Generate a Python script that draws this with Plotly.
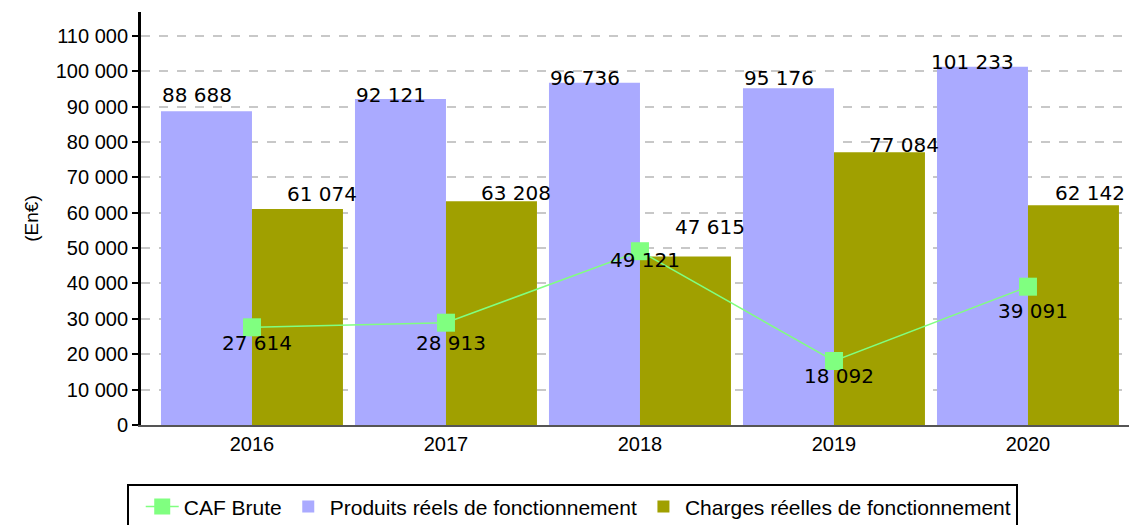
import plotly.graph_objects as go

years = ["2016", "2017", "2018", "2019", "2020"]
produits = [88688, 92121, 96736, 95176, 101233]
charges = [61074, 63208, 47615, 77084, 62142]
caf = [27614, 28913, 49121, 18092, 39091]

# label pixel offsets (styling)
prod_lbl_dy = [16, 4, 5, 10, 5]
charg_lbl_dy = [15, 8, 30, 7, 12]
charg_lbl_dx = [0, 0, 0, 0, -8]
caf_lbl_dy = [-16, -20, -9, -15, -24]

BLUE = "#AAAAFF"
OLIVE = "#A0A000"
GREEN = "#80FF80"
xs = list(range(len(years)))


def fmt(v):
    return f"{v:,}".replace(",", " ")


fig = go.Figure()
fig.add_trace(go.Bar(x=xs, y=produits, name="Produits réels de fonctionnement",
                     marker=dict(color=BLUE, line=dict(width=0)), legendrank=2))
fig.add_trace(go.Bar(x=xs, y=charges, name="Charges réelles de fonctionnement",
                     marker=dict(color=OLIVE, line=dict(width=0)), legendrank=3))
fig.add_trace(go.Scatter(
    x=xs, y=caf, name="CAF Brute", mode="lines+markers",
    line=dict(color=GREEN, width=1.5),
    marker=dict(symbol="square", size=18, color=GREEN), legendrank=1,
))

lbl_font = dict(family="DejaVu Sans", size=20, color="black")
ann = []
for i in xs:
    ann.append(dict(x=i, y=produits[i], text=fmt(produits[i]), showarrow=False,
                    xshift=-55, yshift=prod_lbl_dy[i], font=lbl_font,
                    xanchor="center", yanchor="middle"))
    ann.append(dict(x=i, y=charges[i], text=fmt(charges[i]), showarrow=False,
                    xshift=70.5 + charg_lbl_dx[i], yshift=charg_lbl_dy[i],
                    font=lbl_font, xanchor="center", yanchor="middle"))
    ann.append(dict(x=i, y=caf[i], text=fmt(caf[i]), showarrow=False,
                    xshift=5, yshift=caf_lbl_dy[i], font=lbl_font,
                    xanchor="center", yanchor="middle"))

fig.update_layout(
    width=1137, height=525,
    margin=dict(l=133, r=8, t=4, b=108, autoexpand=False),
    paper_bgcolor="white", plot_bgcolor="white",
    barmode="group", bargap=0.062, bargroupgap=0,
    separators=", ",
    font=dict(family="Liberation Sans", size=20, color="black"),
    annotations=ann,
    showlegend=True,
    legend=dict(
        orientation="h", x=-0.014, xanchor="left", y=-0.144, yanchor="top",
        bordercolor="black", borderwidth=2, bgcolor="white",
        font=dict(family="Liberation Sans", size=21, color="black"),
        traceorder="normal", itemwidth=33,
        title=dict(text="&nbsp;", side="left", font=dict(size=6)),
    ),
)
fig.update_xaxes(
    range=[-0.572, 4.562], tickvals=xs, ticktext=years,
    showgrid=False, zeroline=False,
    showline=True, linecolor="#555555", linewidth=2,
    ticks="", tickfont=dict(size=20),
)
fig.update_yaxes(
    range=[0, 116730], dtick=10000, tick0=0,
    showgrid=True, gridcolor="#C8C8C8", griddash="dash", gridwidth=1.5,
    zeroline=False,
    showline=True, linecolor="black", linewidth=3,
    ticks="outside", ticklen=6, tickwidth=2, tickcolor="black",
    tickformat=",d", tickfont=dict(size=20),
    title=dict(text="(En€)", font=dict(size=19), standoff=13),
)
fig.write_html("out.html")
